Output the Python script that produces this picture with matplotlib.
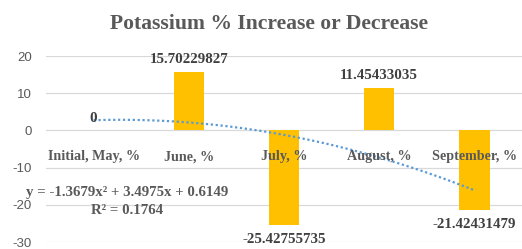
import numpy as np
import matplotlib
matplotlib.use("Agg")
import matplotlib.pyplot as plt

categories = ["Initial, May, %", "June, %", "July, %", "August, %", "September, %"]
values = [0.0, 15.70229827, -25.42755735, 11.45433035, -21.42431479]
labels = ["0", "15.70229827", "-25.42755735", "11.45433035", "-21.42431479"]
yticks = [-30, -20, -10, 0, 10, 20]

fig = plt.figure(figsize=(5.22, 2.49), dpi=100)
ax = fig.add_axes([46/522, 7/249, 476/522, 186/249])

x = np.arange(len(categories))
ax.bar(x, values, width=0.32, color="#FFC000", zorder=2)

# polynomial trendline (order 2), x = 1..n as in Excel
xs = x + 1
coef = np.polyfit(xs, values, 2)
xf = np.linspace(1, len(categories), 200)
ax.plot(xf - 1, np.polyval(coef, xf), linestyle=(0, (1, 1.2)), color="#5B9BD5", lw=1.6, zorder=4)

serif = ["Liberation Serif", "DejaVu Serif"]
for xi, v, lab in zip(x, values, labels):
    if v < 0:
        ax.annotate(lab, (xi, v), xytext=(0, -6), textcoords="offset points", ha="center", va="top",
                    family=serif, fontweight="bold", fontsize=10.8, color="#404040", zorder=5)
    else:
        ax.annotate(lab, (xi, v), xytext=(0, 4), textcoords="offset points", ha="center", va="bottom",
                    family=serif, fontweight="bold", fontsize=10.8, color="#404040", zorder=5)

# category labels drawn on top of bars, just below the zero line
for xi, c in zip(x, categories):
    ax.annotate(c, (xi, 0), xytext=(0, -19), textcoords="offset points", ha="center", va="center",
                family=serif, fontweight="bold", fontsize=10.2, color="#595959", zorder=5)

ax.set_xlim(-0.5, len(categories) - 0.5)
ax.set_ylim(-30, 20)
ax.set_yticks(yticks)
ax.set_yticklabels([str(t) for t in yticks], family=["Liberation Sans", "DejaVu Sans"], fontsize=9.5, color="#595959")
ax.grid(axis="y", color="#D9D9D9", lw=0.9, zorder=0)
for s in ax.spines.values():
    s.set_visible(False)
ax.set_xticks([])
ax.tick_params(axis="y", length=0, pad=10)

ax.text(0.35, -16.8, "y = -1.3679x² + 3.4975x + 0.6149", ha="center", va="center",
        family=serif, fontweight="bold", fontsize=10.7, color="#595959", zorder=5)
ax.text(0.35, -21.6, "R² = 0.1764", ha="center", va="center",
        family=serif, fontweight="bold", fontsize=10.7, color="#595959", zorder=5)

fig.text(269/522, 0.905, "Potassium % Increase or Decrease", ha="center", va="center",
         family=serif, fontweight="bold", fontsize=15.6, color="#595959")

fig.savefig("out.png", dpi=100)
